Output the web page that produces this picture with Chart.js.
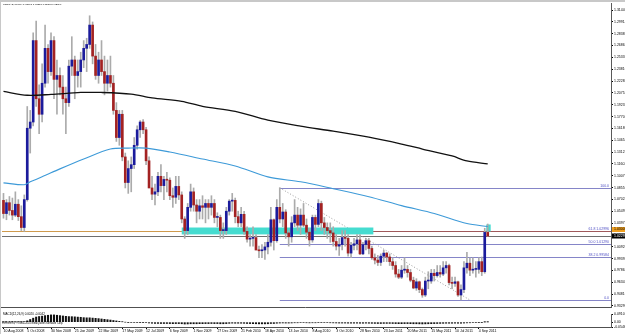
<!DOCTYPE html>
<html><head><meta charset="utf-8">
<script src="https://cdn.jsdelivr.net/npm/chart.js@4/dist/chart.umd.min.js"></script>
<style>
html,body{margin:0;padding:0;background:#fff;width:625px;height:334px;overflow:hidden;}
#wrap{position:relative;width:625px;height:334px;background:#fff;}
canvas{position:absolute;left:0;}
#c1{top:0;}
#c2{top:311px;}
.bar{position:absolute;background:#c8c8c8;}
.t{position:absolute;font-family:"Liberation Sans",Arial,sans-serif;font-size:10px;line-height:10px;white-space:nowrap;color:#000;transform-origin:0 0;}
</style></head>
<body>
<div id="wrap">
<canvas id="c1" width="625" height="311"></canvas>
<canvas id="c2" width="625" height="23"></canvas>
<div class="bar" style="left:0;top:0;width:625px;height:2px;"></div>
<div class="bar" style="left:0;top:0;width:1px;height:334px;"></div>
<div class="t" style="left:3px;top:3px;transform:scale(0.25);">USDCAD,Weekly  1.02771 1.03851 1.02242 1.02297</div>
<div class="t" style="left:3px;top:312.5px;transform:scale(0.3);">MACD(12,26,9) 0.0020 -0.0042</div>
<div class="t" style="left:2px;top:322px;transform:scale(0.255);">FxPro MT4, © 2001-2010 MetaQuotes Software Corp.</div>
</div>
<script>
// ---------- DATA ----------
const dateLabels = ["10 Aug 2008","5 Oct 2008","30 Nov 2008","25 Jan 2009","22 Mar 2009","17 May 2009","12 Jul 2009","6 Sep 2009","1 Nov 2009","27 Dec 2009","21 Feb 2010","18 Apr 2010","13 Jun 2010","8 Aug 2010","3 Oct 2010","28 Nov 2010","23 Jan 2011","20 Mar 2011","15 May 2011","10 Jul 2011","4 Sep 2011"];

const open = [1.0690,1.0520,1.0660,1.0560,1.0500,1.0640,1.0480,1.0340,1.0700,1.1620,
1.1700,1.2750,1.2000,1.1800,1.2200,1.2650,1.2350,1.2750,1.2250,1.2300,
1.2150,1.2000,1.1950,1.2420,1.2500,1.2300,1.2350,1.2500,1.2650,1.2700,
1.2950,1.2550,1.2300,1.2500,1.2350,1.2200,1.2300,1.2200,1.1850,1.1500,
1.1800,1.1250,1.0920,1.1100,1.1150,1.1400,1.1600,1.1700,1.1600,1.1200,
1.0850,1.0770,1.0800,1.1000,1.0880,1.0960,1.0950,1.0750,1.0730,1.0870,
1.0760,1.0450,1.0300,1.0600,1.0800,1.0630,1.0550,1.0620,1.0600,1.0650,
1.0600,1.0650,1.0470,1.0470,1.0300,1.0300,1.0550,1.0680,1.0690,1.0480,
1.0400,1.0510,1.0290,1.0190,1.0200,1.0210,1.0050,1.0040,1.0050,1.0090,
1.0150,1.0440,1.0170,1.0600,1.0450,1.0540,1.0270,1.0220,1.0400,1.0500,
1.0370,1.0500,1.0370,1.0280,1.0180,1.0470,1.0380,1.0650,1.0400,1.0340,
1.0300,1.0270,1.0160,1.0100,1.0120,1.0210,1.0200,1.0010,1.0110,1.0130,
1.0180,1.0000,1.0120,1.0170,1.0070,0.9950,0.9920,0.9890,0.9970,1.0010,
0.9960,0.9900,0.9850,0.9740,0.9700,0.9790,0.9800,0.9760,0.9660,0.9560,
0.9640,0.9540,0.9470,0.9650,0.9650,0.9750,0.9720,0.9760,0.9740,0.9820,
0.9850,0.9630,0.9620,0.9640,0.9470,0.9540,0.9820,0.9880,0.9790,0.9800,
0.9800,0.9900,0.9770,1.0277];
const high = [1.0780,1.0700,1.0740,1.0720,1.0800,1.0700,1.0620,1.0760,1.1900,1.1850,
1.2850,1.3000,1.2180,1.2450,1.2950,1.2700,1.2850,1.2800,1.2500,1.2400,
1.2300,1.2150,1.2500,1.2800,1.2550,1.2500,1.2600,1.2750,1.2780,1.3070,
1.2990,1.2700,1.2600,1.2750,1.2550,1.2500,1.2550,1.2300,1.1950,1.1850,
1.1850,1.1300,1.1200,1.1250,1.1500,1.1650,1.1720,1.1730,1.1630,1.1250,
1.1000,1.0900,1.1050,1.1150,1.1000,1.1050,1.0980,1.0850,1.1000,1.1000,
1.0800,1.0480,1.0650,1.0900,1.0850,1.0700,1.0700,1.0750,1.0700,1.0700,
1.0750,1.0700,1.0530,1.0500,1.0400,1.0600,1.0700,1.0780,1.0720,1.0550,
1.0600,1.0550,1.0350,1.0250,1.0350,1.0250,1.0100,1.0120,1.0150,1.0250,
1.0600,1.0450,1.0700,1.0852,1.0650,1.0570,1.0300,1.0480,1.0700,1.0600,
1.0580,1.0650,1.0450,1.0330,1.0500,1.0500,1.0700,1.0680,1.0470,1.0400,
1.0400,1.0350,1.0250,1.0200,1.0300,1.0300,1.0250,1.0150,1.0200,1.0250,
1.0250,1.0150,1.0200,1.0200,1.0100,1.0000,0.9980,1.0000,1.0050,1.0020,
1.0000,0.9950,0.9900,0.9800,0.9850,0.9950,0.9850,0.9800,0.9700,0.9680,
0.9650,0.9560,0.9700,0.9770,0.9800,0.9800,0.9850,0.9850,0.9900,0.9900,
0.9870,0.9700,0.9700,0.9650,0.9600,0.9900,1.0020,0.9950,0.9950,0.9900,
0.9950,0.9960,1.0330,1.0385];
const low = [1.0460,1.0440,1.0500,1.0440,1.0480,1.0430,1.0300,1.0290,1.0680,1.1300,
1.1650,1.1900,1.1550,1.1700,1.2150,1.2200,1.2300,1.2000,1.1800,1.2050,
1.1800,1.1550,1.1900,1.2300,1.2000,1.2150,1.2150,1.2400,1.2350,1.2650,
1.2450,1.2250,1.2200,1.2300,1.2050,1.2100,1.2150,1.1800,1.1450,1.1400,
1.1200,1.0850,1.0780,1.0800,1.1100,1.1350,1.1500,1.1550,1.1150,1.0850,
1.0700,1.0630,1.0750,1.0800,1.0700,1.0800,1.0700,1.0600,1.0650,1.0700,
1.0400,1.0200,1.0250,1.0550,1.0550,1.0400,1.0450,1.0450,1.0400,1.0450,
1.0500,1.0400,1.0350,1.0200,1.0200,1.0250,1.0500,1.0550,1.0400,1.0350,
1.0350,1.0250,1.0150,1.0100,1.0100,1.0050,0.9950,0.9950,0.9930,1.0000,
1.0100,1.0050,1.0150,1.0400,1.0350,1.0200,1.0100,1.0150,1.0350,1.0300,
1.0250,1.0350,1.0200,1.0100,1.0150,1.0300,1.0350,1.0300,1.0250,1.0200,
1.0150,1.0100,1.0050,0.9980,1.0050,1.0100,0.9970,0.9950,1.0050,1.0050,
0.9990,0.9990,1.0050,1.0000,0.9930,0.9870,0.9850,0.9850,0.9900,0.9900,
0.9850,0.9800,0.9700,0.9680,0.9680,0.9750,0.9700,0.9640,0.9550,0.9530,
0.9500,0.9440,0.9450,0.9550,0.9620,0.9650,0.9700,0.9700,0.9720,0.9750,
0.9600,0.9550,0.9580,0.9450,0.9406,0.9500,0.9750,0.9720,0.9750,0.9700,
0.9750,0.9720,0.9750,1.0224];
const close = [1.0520,1.0660,1.0560,1.0500,1.0640,1.0480,1.0340,1.0700,1.1620,1.1700,
1.2750,1.2000,1.1800,1.2200,1.2650,1.2350,1.2750,1.2250,1.2300,1.2150,
1.2000,1.1950,1.2420,1.2500,1.2300,1.2350,1.2500,1.2650,1.2700,1.2950,
1.2550,1.2300,1.2500,1.2350,1.2200,1.2300,1.2200,1.1850,1.1500,1.1800,
1.1250,1.0920,1.1100,1.1150,1.1400,1.1600,1.1700,1.1600,1.1200,1.0850,
1.0770,1.0800,1.1000,1.0880,1.0960,1.0950,1.0750,1.0730,1.0870,1.0760,
1.0450,1.0300,1.0600,1.0800,1.0630,1.0550,1.0620,1.0600,1.0650,1.0600,
1.0650,1.0470,1.0475,1.0300,1.0305,1.0550,1.0680,1.0690,1.0480,1.0400,
1.0510,1.0290,1.0190,1.0200,1.0210,1.0050,1.0040,1.0050,1.0090,1.0150,
1.0440,1.0170,1.0600,1.0450,1.0540,1.0270,1.0220,1.0400,1.0500,1.0370,
1.0500,1.0370,1.0280,1.0180,1.0470,1.0380,1.0650,1.0400,1.0340,1.0300,
1.0270,1.0160,1.0100,1.0120,1.0210,1.0200,1.0010,1.0110,1.0130,1.0180,
1.0000,1.0120,1.0170,1.0070,0.9950,0.9920,0.9890,0.9970,1.0010,0.9960,
0.9900,0.9850,0.9740,0.9700,0.9790,0.9800,0.9760,0.9660,0.9560,0.9640,
0.9540,0.9470,0.9650,0.9655,0.9750,0.9720,0.9760,0.9740,0.9820,0.9850,
0.9630,0.9620,0.9640,0.9470,0.9540,0.9820,0.9880,0.9790,0.9800,0.9805,
0.9900,0.9770,1.0277,1.0229];

// moving averages read at sampled bars: [bar index, value]
const maSlowPts = [[0,1.2094],[8,1.2045],[16,1.2056],[26,1.2081],[33,1.2081],[43,1.2060],[50,1.2010],[60,1.1966],[67,1.1902],[78,1.1838],[89,1.1723],[100,1.1646],[111,1.1582],[123,1.1505],[134,1.1416],[141,1.1352],[151,1.1262],[156,1.1198],[163,1.1160]];
const maFastPts = [[0,1.0916],[7,1.0891],[9,1.0929],[13,1.0993],[19,1.1096],[27,1.1224],[36,1.1352],[42,1.1364],[48,1.1364],[56,1.1313],[67,1.1224],[78,1.1134],[89,1.0993],[100,1.0929],[111,1.0840],[123,1.0737],[134,1.0622],[145,1.0520],[156,1.0392],[163,1.0353]];

const macd = [0.002,0.002,0.002,0.002,0.002,0.002,0.002,0.004,0.015,0.030,
0.045,0.058,0.064,0.068,0.074,0.078,0.082,0.082,0.078,0.074,
0.070,0.066,0.063,0.062,0.060,0.057,0.055,0.051,0.049,0.049,
0.046,0.043,0.040,0.036,0.032,0.028,0.024,0.019,0.014,0.009,
0.004,0.000,-0.004,-0.006,-0.006,-0.005,-0.004,-0.004,-0.006,-0.009,
-0.012,-0.014,-0.014,-0.015,-0.015,-0.015,-0.016,-0.017,-0.016,-0.016,
-0.018,-0.021,-0.020,-0.018,-0.018,-0.018,-0.017,-0.017,-0.016,-0.016,
-0.015,-0.016,-0.016,-0.018,-0.018,-0.016,-0.013,-0.011,-0.012,-0.012,
-0.012,-0.013,-0.015,-0.016,-0.017,-0.018,-0.019,-0.019,-0.019,-0.018,
-0.015,-0.015,-0.012,-0.010,-0.009,-0.010,-0.010,-0.009,-0.007,-0.007,
-0.006,-0.006,-0.007,-0.008,-0.007,-0.007,-0.005,-0.005,-0.006,-0.006,
-0.007,-0.008,-0.009,-0.010,-0.010,-0.010,-0.011,-0.011,-0.011,-0.011,
-0.012,-0.012,-0.011,-0.012,-0.013,-0.014,-0.015,-0.015,-0.014,-0.014,
-0.014,-0.015,-0.016,-0.017,-0.017,-0.016,-0.016,-0.017,-0.018,-0.018,
-0.019,-0.020,-0.019,-0.018,-0.017,-0.016,-0.015,-0.014,-0.013,-0.012,
-0.012,-0.012,-0.011,-0.012,-0.012,-0.010,-0.008,-0.007,-0.006,-0.005,
-0.004,-0.004,0.001,0.002];

const priceTicks = [1.31440,1.29914,1.28388,1.26862,1.25336,1.23810,1.22284,1.20758,1.19232,1.17706,1.16180,1.14654,1.13128,1.11602,1.10076,1.08550,1.07024,1.05498,1.03972,1.02446,1.00920,0.99394,0.97868,0.96342,0.94816,0.93290];
const macdTicks = [0.0910, 0.00, -0.0546];

const fibHigh = {bar:93, price:1.0852};
const fibLow = {bar:157, price:0.9406};
const fibLevels = [0, 38.2, 50, 61.8, 100];
const hLinePrice = 1.0300;
const bidPrice = 1.02297;
const zones = [{from:60, to:124.5, top:1.0340, bottom:1.0251},{from:162.5, to:164, top:1.0379, bottom:1.0289}];

// ---------- STYLE / LAYOUT ----------
const N_SLOTS = 205;
const slots = []; for (let i = 0; i < N_SLOTS; i++) slots.push(i);
const Y_MIN = 0.93036, Y_MAX = 1.32332;
const BULL = '#1b1b9c', BEAR = '#a32222', WICK = '#ababab';
const FONT = 'Liberation Sans';
Chart.defaults.font.family = FONT;
Chart.defaults.animation = false;

const bodies = open.map((o, i) => [o, close[i]]);
const wicks = low.map((l, i) => [l, high[i]]);
const bodyColors = open.map((o, i) => close[i] >= o ? BULL : BEAR);
function sparse(pts){ const a = new Array(open.length).fill(null); pts.forEach(p => a[p[0]] = p[1]); return a; }

function hl(ctx, y, x1, x2, color, dash){
  ctx.beginPath(); ctx.strokeStyle = color; ctx.lineWidth = 1; ctx.setLineDash(dash || []);
  const yy = Math.round(y) + 0.5; ctx.moveTo(x1, yy); ctx.lineTo(x2, yy); ctx.stroke(); ctx.setLineDash([]);
}

const overlay = {
  id: 'overlay',
  beforeDatasetsDraw(chart){
    const {ctx, chartArea: ca, scales: {x, y}} = chart;
    ctx.save();
    ctx.beginPath(); ctx.rect(ca.left, ca.top, ca.right - ca.left, ca.bottom - ca.top); ctx.clip();
    hl(ctx, y.getPixelForValue(bidPrice), ca.left, ca.right, '#6e6e6e');
    hl(ctx, y.getPixelForValue(hLinePrice), ca.left, ca.right, '#cf9a4c');
    const fx = x.getPixelForValue(fibHigh.bar);
    ctx.font = '3.5px "' + FONT + '"'; ctx.textAlign = 'right'; ctx.textBaseline = 'bottom';
    fibLevels.forEach(l => {
      const p = fibLow.price + (fibHigh.price - fibLow.price) * l / 100;
      const py = y.getPixelForValue(p);
      hl(ctx, py, fx, ca.right, l === 61.8 ? '#a0585a' : '#8585c8');
      ctx.fillStyle = '#4f4fc4';
      const txt = l === 0 ? '0.0' : (l === 100 ? '100.0' : l.toFixed(1) + ' ' + p.toFixed(5));
      ctx.fillText(txt, ca.right - 2, Math.round(py));
    });
    ctx.beginPath(); ctx.strokeStyle = '#9a9a9a'; ctx.setLineDash([1, 2]);
    ctx.moveTo(fx, y.getPixelForValue(fibHigh.price)); ctx.lineTo(x.getPixelForValue(fibLow.bar), y.getPixelForValue(fibLow.price)); ctx.stroke(); ctx.setLineDash([]);
    zones.forEach(z => {
      const x1 = x.getPixelForValue(z.from), x2 = x.getPixelForValue(z.to);
      const y1 = y.getPixelForValue(z.top), y2 = y.getPixelForValue(z.bottom);
      ctx.fillStyle = '#45dcd0'; ctx.fillRect(x1, y1, x2 - x1, y2 - y1);
    });
    ctx.restore();
  },
  afterDraw(chart){
    const {ctx, chartArea: ca, scales: {y}} = chart;
    ctx.save();
    ctx.font = '3.5px "' + FONT + '"'; ctx.textAlign = 'left'; ctx.textBaseline = 'middle';
    let oy = Math.round(y.getPixelForValue(hLinePrice)) - 1.5;
    ctx.fillStyle = '#f0a020'; ctx.fillRect(ca.right + 1, oy - 2.5, 14, 5);
    ctx.fillStyle = '#000'; ctx.fillText(hLinePrice.toFixed(5), ca.right + 3, oy);
    let by = Math.round(y.getPixelForValue(bidPrice));
    ctx.fillStyle = '#000'; ctx.fillRect(ca.right + 1, by - 2.5, 14, 5);
    ctx.fillStyle = '#fff'; ctx.fillText(bidPrice.toFixed(5), ca.right + 3, by);
    hl(ctx, ca.bottom - 0.5, 0, ca.right, '#505050');
    ctx.restore();
  }
};

new Chart(document.getElementById('c1'), {
  data: {
    labels: slots,
    datasets: [
      {type: 'line', data: sparse(maSlowPts), borderColor: '#111', borderWidth: 1.3, pointRadius: 0, spanGaps: true, order: 0, tension: 0.3},
      {type: 'line', data: sparse(maFastPts), borderColor: '#3d9ad8', borderWidth: 1.1, pointRadius: 0, spanGaps: true, order: 0, tension: 0.3},
      {type: 'bar', data: bodies, backgroundColor: bodyColors, barThickness: 2, minBarLength: 1, grouped: false, order: 1},
      {type: 'bar', data: wicks, backgroundColor: WICK, barThickness: 1, grouped: false, order: 2}
    ]
  },
  options: {
    responsive: false, devicePixelRatio: 1, animation: false,
    layout: {padding: {top: 3, left: 2, right: 0, bottom: 1}},
    plugins: {legend: {display: false}, tooltip: {enabled: false}},
    scales: {
      x: {type: 'category', offset: true, display: false},
      y: {
        position: 'right', min: Y_MIN, max: Y_MAX,
        afterBuildTicks: s => { s.ticks = priceTicks.map(v => ({value: v})); },
        afterFit: s => { s.width = 14; },
        ticks: {autoSkip: false, color: '#000', padding: 1, font: {size: 3.5, family: FONT}, callback: v => Number(v).toFixed(5)},
        grid: {drawOnChartArea: false, tickLength: 2, color: '#000'},
        border: {display: true, color: '#5a5a5a'}
      }
    }
  },
  plugins: [overlay]
});

new Chart(document.getElementById('c2'), {
  data: {
    labels: slots,
    datasets: [{type: 'bar', data: macd, backgroundColor: '#111', barThickness: 1.4}]
  },
  options: {
    responsive: false, devicePixelRatio: 1, animation: false,
    layout: {padding: {top: 0, left: 2, right: 0, bottom: 0}},
    plugins: {legend: {display: false}, tooltip: {enabled: false}},
    scales: {
      x: {
        type: 'category', offset: true,
        afterFit: s => { s.height = 7; },
        ticks: {autoSkip: false, maxRotation: 0, minRotation: 0, align: 'start', padding: 0, color: '#000', font: {size: 3.5, family: FONT},
          callback: (v, i) => (i % 8 === 0 && i <= 160) ? dateLabels[i / 8] : ''},
        grid: {drawOnChartArea: false, offset: false, tickLength: 2, color: c => (c.index % 8 === 0 && c.index <= 160) ? '#000' : 'rgba(0,0,0,0)'},
        border: {display: true, color: '#505050'}
      },
      y: {
        position: 'right', min: macdTicks[2], max: macdTicks[0],
        afterBuildTicks: s => { s.ticks = macdTicks.map(v => ({value: v})); },
        afterFit: s => { s.width = 14; },
        ticks: {autoSkip: false, color: '#000', padding: 1, font: {size: 3.5, family: FONT}, callback: v => v === 0 ? '0.00' : Number(v).toFixed(4)},
        grid: {drawOnChartArea: false, tickLength: 2, color: '#000'},
        border: {display: true, color: '#5a5a5a'}
      }
    }
  }
});
</script>
</body></html>
